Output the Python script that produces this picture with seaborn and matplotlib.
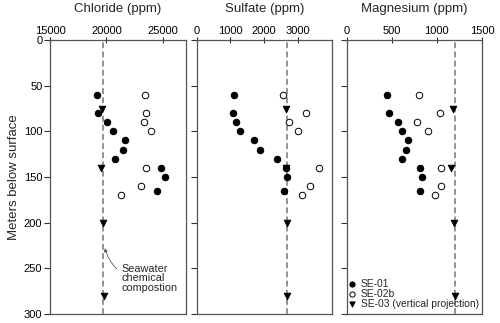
import numpy as np
import pandas as pd
import matplotlib.pyplot as plt
import seaborn as sns

# Depths (meters below surface) for each well
se01_depth = [60, 80, 90, 100, 110, 120, 130, 140, 150, 165]
se02b_depth = [60, 80, 90, 100, 140, 160, 170]
se03_depth = [75, 140, 200, 280]

# Chloride (ppm)
se01_cl = [19120, 19260, 20090, 20560, 21680, 21470, 20740, 24860, 25150, 24440]
se02b_cl = [23450, 23500, 23360, 23980, 23500, 23030, 21330]
se03_cl = [19620, 19500, 19700, 19750]

# Sulfate (ppm)
se01_so4 = [1093, 1076, 1172, 1288, 1695, 1869, 2372, 2654, 2683, 2596]
se02b_so4 = [2567, 3227, 2721, 2994, 3613, 3352, 3128]
se03_so4 = [2645, 2645, 2680, 2680]

# Magnesium (ppm)
se01_mg = [453, 465, 567, 615, 678, 659, 615, 811, 833, 814]
se02b_mg = [807, 1032, 785, 907, 1046, 1051, 980]
se03_mg = [1179, 1154, 1190, 1200]

# Seawater chemical composition
seawater_cl = 19700
seawater_so4 = 2680
seawater_mg = 1200

panels = ['Chloride (ppm)', 'Sulfate (ppm)', 'Magnesium (ppm)']
xlims = [(15000, 27000), (0, 4000), (0, 1500)]
xticks = [[15000, 20000, 25000], [0, 1000, 2000, 3000], [0, 500, 1000, 1500]]
seawater = [seawater_cl, seawater_so4, seawater_mg]

frames = []
for well, depth, cl, so4, mg in [('SE-01', se01_depth, se01_cl, se01_so4, se01_mg),
                                 ('SE-02b', se02b_depth, se02b_cl, se02b_so4, se02b_mg),
                                 ('SE-03 (vertical projection)', se03_depth, se03_cl, se03_so4, se03_mg)]:
    frames.append(pd.DataFrame({'Well': well, 'Depth': depth,
                                panels[0]: cl, panels[1]: so4, panels[2]: mg}))
df = pd.concat(frames, ignore_index=True)

sns.set_style('ticks')
plt.rcParams['font.family'] = ['Liberation Sans', 'DejaVu Sans']

fig = plt.figure(figsize=(5, 3.23), dpi=100)
lefts = [0.100, 0.393, 0.693]
width = 0.271
bottom, height = 0.028, 0.848

well_styles = {
    'SE-01': dict(marker='o', color='black', edgecolor='black', s=22),
    'SE-02b': dict(marker='o', color='white', edgecolor='black', s=22),
    'SE-03 (vertical projection)': dict(marker='v', color='black', edgecolor='black', s=22),
}

axes = []
for i, col in enumerate(panels):
    ax = fig.add_axes([lefts[i], bottom, width, height])
    axes.append(ax)
    ax.axvline(seawater[i], color='#808080', linestyle=(0, (3.5, 2)), linewidth=1.2, zorder=1)
    for well, st in well_styles.items():
        sub = df[df['Well'] == well]
        sns.scatterplot(data=sub, x=col, y='Depth', ax=ax, label=well,
                        linewidth=0.7, zorder=3, legend=False, **st)
    ax.set_xlim(*xlims[i])
    ax.set_ylim(300, 0)
    ax.set_xticks(xticks[i])
    ax.set_yticks(np.arange(0, 301, 50))
    ax.xaxis.tick_top()
    ax.xaxis.set_label_position('top')
    ax.set_xlabel('')
    ax.set_title(col, fontsize=9.5, pad=20)
    ax.tick_params(axis='x', direction='inout', length=4, width=0.8, pad=1,
                   labelsize=8, colors='#333333', labelcolor='black')
    ax.tick_params(axis='y', direction='out', length=4, width=0.8, pad=1.5,
                   labelsize=8, colors='#333333', labelcolor='black')
    for sp in ax.spines.values():
        sp.set_visible(True)
        sp.set_color('#555555')
        sp.set_linewidth(0.9)
    if i == 0:
        ax.set_ylabel('Meters below surface', fontsize=9.5, labelpad=3)
    else:
        ax.set_ylabel('')
        ax.set_yticklabels([])

axes[0].annotate('Seawater\nchemical\ncompostion', xy=(seawater_cl + 150, 228),
                 xytext=(21300, 261), fontsize=7.8, ha='left', va='center',
                 linespacing=0.95,
                 arrowprops=dict(arrowstyle='-|>', color='#555555', lw=0.6,
                                 mutation_scale=5,
                                 connectionstyle='arc3,rad=-0.4',
                                 shrinkA=1, shrinkB=0))

handles, labels = axes[2].get_legend_handles_labels()
axes[2].legend(handles, labels, loc='lower left', bbox_to_anchor=(0.0, 0.015),
               frameon=False, fontsize=7.4,
               handletextpad=0.5, borderaxespad=0.0, borderpad=0.1,
               labelspacing=0.0, handlelength=0.8, markerscale=0.8)

fig.savefig('out.png', dpi=100)
